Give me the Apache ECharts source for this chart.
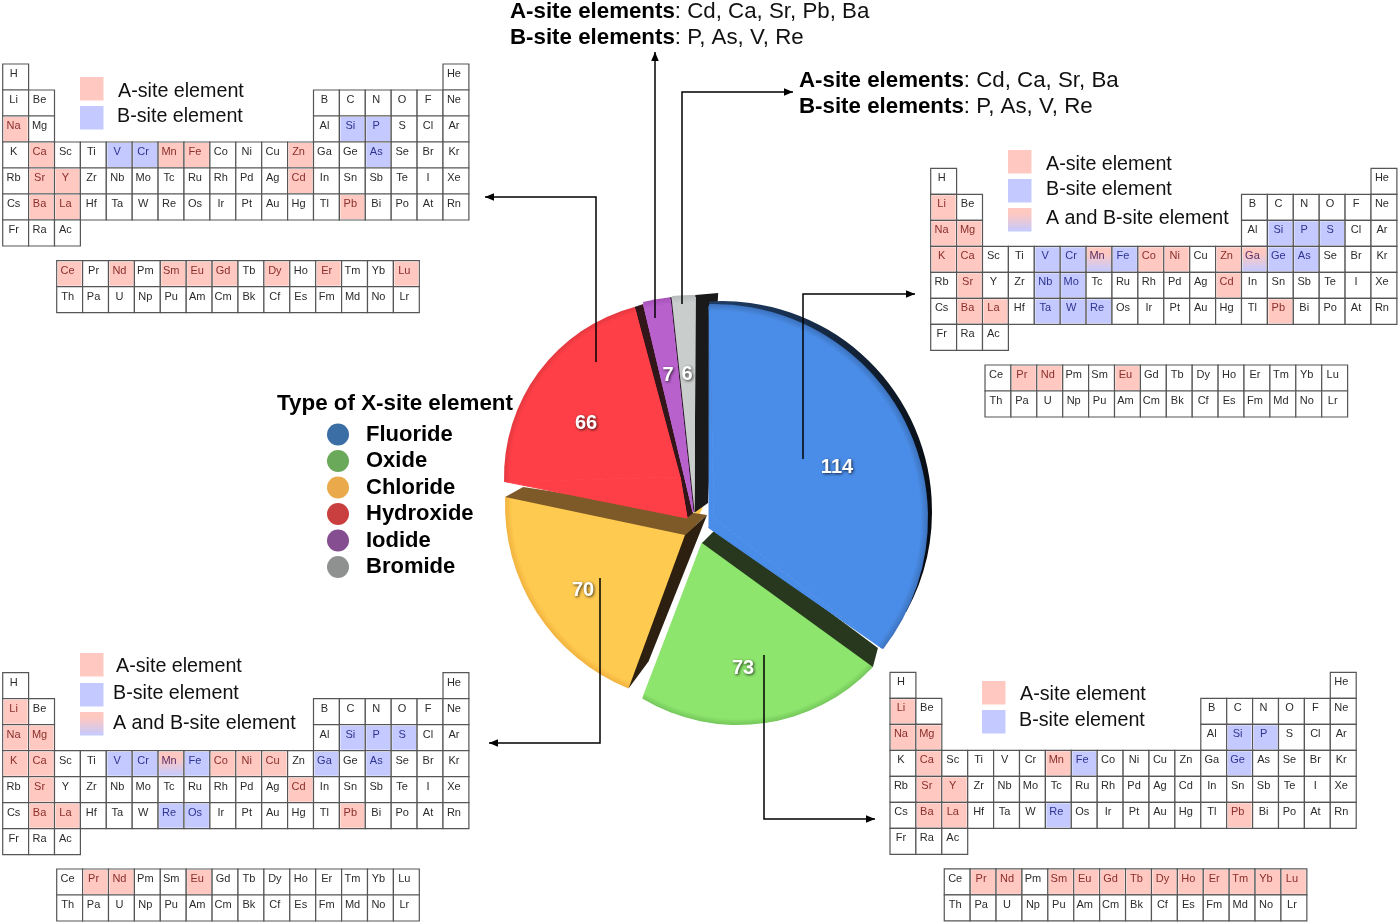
<!DOCTYPE html>
<html><head><meta charset="utf-8">
<style>html,body{margin:0;padding:0;background:#fff}#c{width:1400px;height:924px}</style>
<script src="https://cdn.jsdelivr.net/npm/echarts@6/dist/echarts.min.js"></script>
</head><body><div id="c"></div>
<script>
// ---- data ----
const sliceNames  = ['Fluoride','Oxide','Chloride','Hydroxide','Iodide','Bromide'];
const sliceValues = [114,73,70,66,7,6];
const mainRows = [
 'H . . . . . . . . . . . . . . . . He',
 'Li Be . . . . . . . . . . B C N O F Ne',
 'Na Mg . . . . . . . . . . Al Si P S Cl Ar',
 'K Ca Sc Ti V Cr Mn Fe Co Ni Cu Zn Ga Ge As Se Br Kr',
 'Rb Sr Y Zr Nb Mo Tc Ru Rh Pd Ag Cd In Sn Sb Te I Xe',
 'Cs Ba La Hf Ta W Re Os Ir Pt Au Hg Tl Pb Bi Po At Rn',
 'Fr Ra Ac'
];
const fBlockRows = [
 'Ce Pr Nd Pm Sm Eu Gd Tb Dy Ho Er Tm Yb Lu',
 'Th Pa U Np Pu Am Cm Bk Cf Es Fm Md No Lr'
];
const hydroxideA = ['Na','Ca','Mn','Fe','Zn','Sr','Y','Cd','Ba','La','Pb','Ce','Nd','Sm','Eu','Gd','Dy','Er','Lu'];
const hydroxideB = ['Si','P','V','Cr','As'];
const fluorideA  = ['Li','Na','Mg','K','Ca','Co','Ni','Zn','Sr','Cd','Ba','La','Pb','Pr','Nd','Eu'];
const fluorideB  = ['Si','P','S','V','Cr','Fe','Ge','As','Nb','Mo','Ta','W','Re'];
const fluorideAB = ['Mn','Ga'];
const chlorideA  = ['Li','Na','Mg','K','Ca','Co','Ni','Cu','Sr','Cd','Ba','La','Pb','Pr','Nd','Eu'];
const chlorideB  = ['Si','P','S','V','Cr','Fe','Ga','As','Re','Os'];
const chlorideAB = ['Mn'];
const oxideA = ['Li','Na','Mg','Ca','Mn','Sr','Y','Ba','La','Pb','Pr','Nd','Sm','Eu','Gd','Tb','Dy','Ho','Er','Tm','Yb','Lu'];
const oxideB = ['Si','P','Fe','Ge','Re'];
const iodideText  = ['Cd, Ca, Sr, Pb, Ba','P, As, V, Re'];
const bromideText = ['Cd, Ca, Sr, Ba','P, As, V, Re'];

// ---- layout & style ----
const FONT = '"Liberation Sans", Arial, sans-serif';
const TOTAL = sliceValues.reduce((a,b)=>a+b,0);
const faceBase = ['#4a8de8','#8de56d','#ffca50','#ff3f47','#b861cc','#c9cdcc'];
const faceRim  = ['#3c72bd','#74c65a','#f0b23e','#e3383f','#a552b8','#b6baba'];
const legendColors = ['#3b6ea5','#6aa85a','#eaa94a','#c93f3f','#844e90','#8f9190'];
// arc centre, radius, clock-angle of arc start, perspective stretch of sweep, apex of the visible wedge, label pos, z
const faceLayout = [
 {c:[714,518],r:214,start:-1.3,stretch:1.057,apex:[709,528],label:[837,467],z:21},
 {c:[738,539],r:186,start:133.5,stretch:0.991,apex:[702,543],label:[743,668],z:12},
 {c:[703,505],r:198,start:202.1,stretch:0.936,apex:[685,535],label:[583,590],z:10},
 {c:[680,477],r:176,start:268.4,stretch:1.083,apex:[687,518],label:[586,423],z:15},
 {c:[693,512],r:216,start:346.6,stretch:0.97,apex:[693,512],label:[668,375],z:19},
 {c:[694,513],r:218,start:354.2,stretch:0.95,apex:[694,513],label:[687,374],z:17}
];
function faceFill(i){
  const L=faceLayout[i];
  return {type:'radial',global:true,x:L.c[0],y:L.c[1],r:L.r,colorStops:[{offset:0,color:faceBase[i]},{offset:0.965,color:faceBase[i]},{offset:1,color:faceRim[i]}]};
}
// extruded side walls: slice index, which edge, apex offset, rim offset, colour, z
const wallLayout = [
 {s:2,edge:'end',a:[22,-20],b:[18,-10],color:'#7d5a28',z:11},
 {s:2,edge:'start',a:[22,-20],b:[20,-27],color:'#2e2010',z:11},
 {s:1,edge:'start',a:[15,-15],b:[5,-19],color:'#27381e',z:13},
 {s:3,edge:'end',a:[6,-5],b:[9,-3],color:'#33161a',z:14},
 {s:5,edge:'end',a:[14,-10],b:[23,-2],color:'#1a1a1a',z:16},
 {s:4,edge:'end',a:[1.6,0],b:[1.6,0],color:'#2a1a2a',z:18}
];
const tableLayout = [
 {x:2.7,y:64,w:25.9,h:26,f:[2.085,7.565],A:hydroxideA,B:hydroxideB,AB:[]},
 {x:930.7,y:168.3,w:25.9,h:26,f:[2.097,7.565],A:fluorideA,B:fluorideB,AB:fluorideAB},
 {x:2.7,y:672.7,w:25.9,h:26,f:[2.085,7.55],A:chlorideA,B:chlorideB,AB:chlorideAB},
 {x:890,y:672.3,w:25.9,h:26,f:[2.095,7.56],A:oxideA,B:oxideB,AB:[]}
];
const PINK='#ffc8c0', BLUE='#c4caff';
const ABFILL={type:'linear',x:0,y:0,x2:0,y2:1,colorStops:[{offset:0,color:PINK},{offset:0.25,color:PINK},{offset:1,color:BLUE}]};
const siteFill=[ '#fff',PINK,BLUE,ABFILL ];
const siteText=[ '#2b2b2b','#8a2f2c','#2f3390','#5a2f66' ];
const keyLayout = [
 {sw:[[80,77],[80,106]],tx:[[118,92],[117,117]]},
 {sw:[[1008,150],[1008,179],[1008,208]],tx:[[1046,164.5],[1046,190],[1046,219]]},
 {sw:[[80,653],[80,683],[80,712]],tx:[[116,667],[113,694],[113,724]]},
 {sw:[[982,681],[982,710]],tx:[[1020,695],[1019,721]]}
];
const keyNames=['A-site element','B-site element','A and B-site element'];
const keyFills=[PINK,BLUE,ABFILL];
const leaders = [
 [[596,362],[596,197],[485,197]],
 [[655,318],[655,52]],
 [[682,304],[682,92],[793,92]],
 [[803,459],[803,294],[915,294]],
 [[764,655],[764,819],[875,819]],
 [[600,578],[600,743],[489,743]]
];

// ---- helpers ----
function clockPt(c,r,deg){const t=deg*Math.PI/180;return [c[0]+r*Math.sin(t),c[1]-r*Math.cos(t)];}
function sweepOf(i,v){return v/TOTAL*360*faceLayout[i].stretch;}

const series=[], grids=[], xAxes=[], yAxes=[], graphics=[];

// slice faces: native pie wedges
sliceValues.forEach((v,i)=>{
  const L=faceLayout[i];
  series.push({type:'pie',silent:true,animation:false,z:L.z,center:L.c,radius:L.r,
    startAngle:90-L.start,clockwise:true,avoidLabelOverlap:false,minShowLabelAngle:0,
    labelLine:{show:false},
    labelLayout:{x:L.label[0],y:L.label[1],align:'center',verticalAlign:'middle',hideOverlap:false},
    emphasis:{disabled:true},
    data:[
      {name:sliceNames[i],value:v,itemStyle:{color:faceFill(i)},
       label:{show:true,formatter:'{c}',color:'#fff',fontFamily:FONT,fontWeight:'bold',fontSize:20,
              textShadowColor:'rgba(0,0,0,0.75)',textShadowBlur:3,textShadowOffsetX:1,textShadowOffsetY:1}},
      {name:'',value:TOTAL/L.stretch-v,itemStyle:{color:'rgba(0,0,0,0)'},label:{show:false}}
    ]});
  // fill between arc centre and visible apex
  series.push({type:'custom',coordinateSystem:'none',silent:true,animation:false,z:L.z,clip:false,data:[[v]],
    renderItem:(p,api)=>{
      const val=api.value(0),s=sweepOf(i,val);
      const c1=clockPt(L.c,L.r-2,L.start),c2=clockPt(L.c,L.r-2,L.start+s);
      const st={fill:faceBase[i],stroke:faceBase[i],lineWidth:1,lineJoin:'bevel'};
      return {type:'group',children:[
        {type:'polygon',shape:{points:[L.apex,c1,L.c]},style:st},
        {type:'polygon',shape:{points:[L.apex,L.c,c2]},style:st}]};
    }});
});
// blue back wall (dark crescent, tapers where it meets the face's arc)
series.push({type:'pie',silent:true,animation:false,z:20,center:[722,511],radius:210,startAngle:93.5,
  labelLine:{show:false},label:{show:false},emphasis:{disabled:true},
  data:[{name:'',value:sliceValues[0],itemStyle:{color:{type:'linear',x:0,y:0,x2:1,y2:0.6,colorStops:[{offset:0,color:'#1f3d66'},{offset:0.6,color:'#101d2e'},{offset:1,color:'#080c12'}]}}},
        {name:'',value:TOTAL-sliceValues[0],itemStyle:{color:'rgba(0,0,0,0)'}}]});
// side walls derived from the slice edges
wallLayout.forEach(W=>{
  const L=faceLayout[W.s];
  series.push({type:'custom',coordinateSystem:'none',silent:true,animation:false,z:W.z,clip:false,data:[[sliceValues[W.s]]],
    renderItem:(p,api)=>{
      const deg=L.start+(W.edge==='end'?sweepOf(W.s,api.value(0)):0);
      const rim=clockPt(L.c,L.r,deg);
      return {type:'polygon',shape:{points:[L.apex,[L.apex[0]+W.a[0],L.apex[1]+W.a[1]],[rim[0]+W.b[0],rim[1]+W.b[1]],rim]},style:{fill:W.color}};
    }});
});

// periodic tables
const mainCells=[];
mainRows.forEach((r,ri)=>r.split(' ').forEach((s,ci)=>{if(s!=='.')mainCells.push({s,c:ci,r:ri});}));
const fCells=[];
fBlockRows.forEach((r,ri)=>r.split(' ').forEach((s,ci)=>fCells.push({s,c:ci,r:ri})));
tableLayout.forEach((T,ti)=>{
  grids.push({left:T.x,top:T.y,width:18*T.w,height:9.6*T.h,containLabel:false,show:false});
  xAxes.push({type:'value',gridIndex:ti,min:0,max:18,show:false});
  yAxes.push({type:'value',gridIndex:ti,min:0,max:9.6,inverse:true,show:false});
  const site=s=>T.AB.includes(s)?3:T.A.includes(s)?1:T.B.includes(s)?2:0;
  const cells=mainCells.map(e=>({s:e.s,c:e.c,r:e.r})).concat(fCells.map(e=>({s:e.s,c:e.c+T.f[0],r:e.r+T.f[1]})));
  series.push({type:'custom',xAxisIndex:ti,yAxisIndex:ti,silent:true,animation:false,clip:false,z:5,
    data:cells.map(e=>[e.c,e.r,site(e.s)]),
    renderItem:(p,api)=>{
      const tl=api.coord([api.value(0),api.value(1)]);
      const sz=api.size([1,1]);
      const st=api.value(2), e=cells[p.dataIndex];
      const ch=[{type:'rect',shape:{x:tl[0],y:tl[1],width:sz[0],height:sz[1]},style:{fill:'#fff',stroke:'#565656',lineWidth:1.2}}];
      if(st) ch.push({type:'rect',shape:{x:tl[0]+1,y:tl[1]+1,width:sz[0]-2,height:sz[1]-2},style:{fill:siteFill[st]}});
      ch.push({type:'text',style:{x:tl[0]+sz[0]/2-2,y:tl[1]+sz[1]/2-3,text:e.s,fill:siteText[st],font:'11px '+FONT,align:'center',verticalAlign:'middle'}});
      return {type:'group',children:ch};
    }});
});

// table keys
keyLayout.forEach(K=>{
  K.sw.forEach((p,i)=>graphics.push({type:'rect',z:6,silent:true,shape:{x:p[0],y:p[1],width:23.5,height:23.5},style:{fill:keyFills[i]}}));
  K.tx.forEach((p,i)=>graphics.push({type:'text',z:6,silent:true,style:{x:p[0],y:p[1],text:keyNames[i],fill:'#111',font:'19.7px '+FONT,verticalAlign:'middle'}}));
});
// leaders with arrow heads
leaders.forEach(P=>{
  graphics.push({type:'polyline',z:40,silent:true,shape:{points:P},style:{stroke:'#000',lineWidth:1.5,fill:null}});
  const a=P[P.length-2],b=P[P.length-1],L=Math.hypot(b[0]-a[0],b[1]-a[1]),u=[(b[0]-a[0])/L,(b[1]-a[1])/L],n=[-u[1],u[0]];
  graphics.push({type:'polygon',z:40,silent:true,shape:{points:[b,[b[0]-u[0]*9+n[0]*3.8,b[1]-u[1]*9+n[1]*3.8],[b[0]-u[0]*9-n[0]*3.8,b[1]-u[1]*9-n[1]*3.8]]},style:{fill:'#000'}});
});
// callouts
function callout(x,y,label,list){
  graphics.push({type:'text',z:41,silent:true,style:{x,y,verticalAlign:'middle',
    text:'{b|'+label+'}{r|: '+list+'}',rich:{b:{fontFamily:FONT,fontWeight:'bold',fontSize:22.3,fill:'#000',color:'#000'},r:{fontFamily:FONT,fontSize:22.3,fill:'#111',color:'#111'}}}});
}
callout(510,12,'A-site elements',iodideText[0]);
callout(510,38,'B-site elements',iodideText[1]);
callout(799,81,'A-site elements',bromideText[0]);
callout(799,107,'B-site elements',bromideText[1]);

const chart=echarts.init(document.getElementById('c'),null,{renderer:'canvas',width:1400,height:924});
chart.setOption({
  animation:false,backgroundColor:'#fff',
  title:{text:'Type of X-site element',left:277,top:393,padding:0,textStyle:{fontFamily:FONT,fontWeight:'bold',fontSize:22.4,color:'#000'}},
  legend:{orient:'vertical',left:327,top:423.5,itemWidth:22,itemHeight:22,itemGap:4.5,padding:0,selectedMode:false,icon:'circle',
    textStyle:{fontFamily:FONT,fontWeight:'bold',fontSize:22,color:'#000',padding:[0,0,0,12]},
    data:sliceNames.map((n,i)=>({name:n,icon:'circle',itemStyle:{color:legendColors[i]}}))},
  grid:grids,xAxis:xAxes,yAxis:yAxes,series,
  graphic:{elements:graphics}
});
</script></body></html>
